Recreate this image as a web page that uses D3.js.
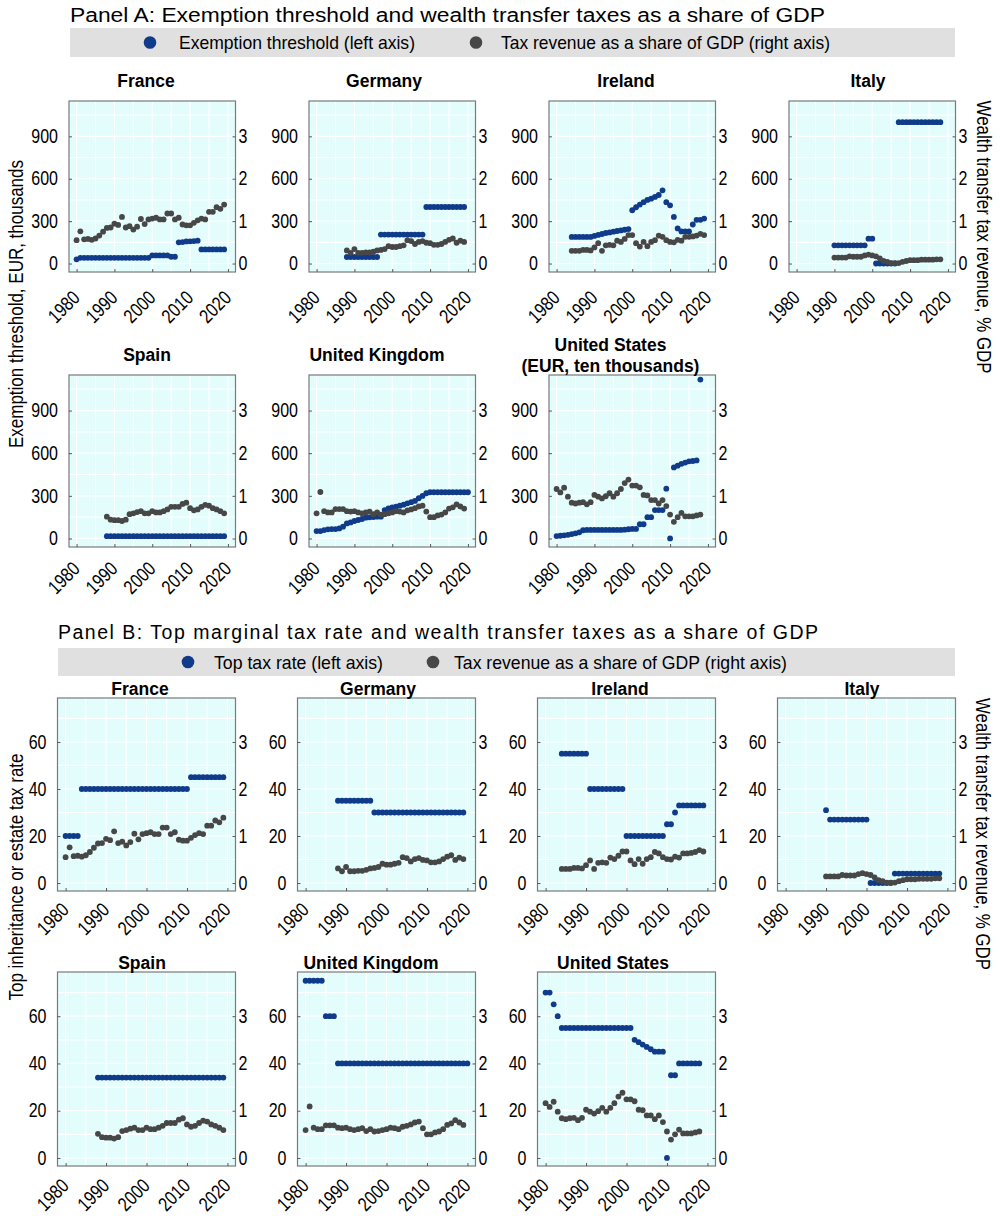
<!DOCTYPE html>
<html><head><meta charset="utf-8">
<script src="https://cdn.jsdelivr.net/npm/d3@7"></script>
<style>body{margin:0;background:#fff}svg{display:block}</style>
</head><body>
<svg id="chart" width="1000" height="1222"></svg>
<script>
// ---------------- DATA ----------------
const countries = ["France","Germany","Ireland","Italy","Spain","United Kingdom","United States"];
const usUnitNote = "(EUR, ten thousands)";
const startYears = [1980, 1988, 1984, 1990, 1988, 1980, 1980];

// Wealth transfer tax revenue, % of GDP (right axis, both panels)
const revenueFrance  = [0.55,0.76,0.57,0.58,0.56,0.59,0.66,0.75,0.84,0.85, 0.94,0.91,1.10,0.85,0.88,0.80,0.87,1.05,0.93,1.04, 1.06,1.08,1.04,1.04,1.18,1.18,1.04,1.08,0.92,0.90, 0.90,0.96,1.02,1.06,1.04,1.22,1.22,1.33,1.29,1.39];
const revenueGermany = [0.31,0.25,0.34,0.25,0.25,0.26,0.26,0.28,0.31,0.32, 0.34,0.41,0.39,0.39,0.41,0.43,0.55,0.53,0.46,0.51, 0.53,0.49,0.48,0.44,0.44,0.46,0.51,0.56,0.59,0.49, 0.54,0.51];
const revenueIreland = [0.30,0.30,0.30,0.32,0.32,0.31, 0.38,0.48,0.30,0.43,0.44,0.43,0.54,0.51,0.58,0.67, 0.67,0.48,0.40,0.51,0.41,0.51,0.55,0.66,0.63,0.55, 0.51,0.50,0.56,0.54,0.63,0.63,0.64,0.66,0.70,0.67];
const revenueItaly   = [0.14,0.14,0.14,0.14,0.17,0.16,0.16,0.16,0.19,0.21, 0.19,0.17,0.12,0.06,0.04,0.01,0.01,0.01,0.04,0.06, 0.08,0.08,0.08,0.09,0.09,0.09,0.09,0.10,0.10];
const revenueSpain   = [0.51,0.44,0.43,0.43,0.41,0.44,0.57,0.59,0.62,0.64, 0.59,0.59,0.64,0.61,0.61,0.64,0.68,0.74,0.74,0.74, 0.81,0.84,0.71,0.66,0.68,0.74,0.79,0.77,0.71,0.68, 0.64,0.59];
const revenueUK      = [0.59,1.09,0.64,0.61,0.61,0.69,0.69,0.69,0.64,0.63, 0.64,0.61,0.59,0.61,0.63,0.57,0.61,0.56,0.57,0.59, 0.61,0.64,0.63,0.61,0.66,0.68,0.71,0.75,0.77,0.63, 0.50,0.50,0.54,0.56,0.61,0.70,0.73,0.80,0.75,0.70];
const revenueUS      = [1.16,1.08,1.19,0.98,0.84,0.82,0.84,0.85,0.80,0.85, 1.02,0.98,0.94,0.99,1.06,0.98,1.06,1.16,1.30,1.38, 1.24,1.24,1.20,1.02,1.01,0.90,0.90,0.82,0.90,0.76, 0.56,0.39,0.50,0.60,0.52,0.52,0.52,0.54,0.56];

// Exemption threshold, EUR thousands (US: EUR ten thousands)
const thresholdFrance  = [30,40,40,40,40,40,40,40,40,40, 40,40,40,40,40,40,40,40,40,40, 57,57,57,57,57,48,48,150,152,156, 157,159,162,100,100,100,100,100,100,100];
const thresholdGermany = [46,46,46,46,46,46,46,46,46, 205,205,205,205,205,205,205,205,205,205,205,205, 400,400,400,400,400,400,400,400,400,400,400];
const thresholdIreland = [188,188,188,188,188,188, 195,202,209,216,220,225,230,234,239,244, 377,398,417,434,450,459,471,485,518,434, 412,330,248,227,227,227,276,309,309,318];
const thresholdItaly   = [129,129,129,129,129,129,129,129,129, 176,176, 0,0,0,0,0,0, 1000,1000,1000,1000,1000,1000,1000,1000,1000,1000,1000,1000];
const thresholdSpain   = [16,16,16,16,16,16,16,16,16,16, 16,16,16,16,16,16,16,16,16,16, 16,16,16,16,16,16,16,16,16,16, 16,16];
const thresholdUK      = [52,52,59,64,66,66,71,83,106,113, 123,130,137,146,149,151,153,153,200,212, 219,224,231,238,247,255,264,283,299,318, 325,325,325,325,325,325,325,325,325,325,325];
const thresholdUS      = [17,19,22,26,31,36,43,58, 60,60,60,60,60,60,60,60,60,60, 62,65,67,67, 100,100,150,150,200,200,200,350,0,500,512,525,534,543,545,549,1118];

// Top inheritance / estate tax rate, %
const rateFrance  = [20,20,20,20, 40,40,40,40,40,40,40,40,40,40,40,40,40,40,40,40,40,40,40,40,40,40,40,40,40,40,40, 45,45,45,45,45,45,45,45,45];
const rateGermany = [35,35,35,35,35,35,35,35,35, 30,30,30,30,30,30,30,30,30,30,30,30,30,30,30,30,30,30,30,30,30,30,30];
const rateIreland = [55,55,55,55,55,55,55, 40,40,40,40,40,40,40,40,40, 20,20,20,20,20,20,20,20,20,20, 25,25,30, 33,33,33,33,33,33,33];
const rateItaly   = [31, 27,27,27,27,27,27,27,27,27,27, 0,0,0,0,0,0, 4,4,4,4,4,4,4,4,4,4,4,4];
const rateSpain   = [34,34,34,34,34,34,34,34,34,34, 34,34,34,34,34,34,34,34,34,34, 34,34,34,34,34,34,34,34,34,34, 34,34];
const rateUK      = [75,75,75,75,75, 60,60,60, 40,40,40,40,40,40,40,40,40,40,40,40,40,40,40,40,40,40,40,40,40,40,40,40,40,40,40,40,40,40,40,40,40];
const rateUS      = [70,70,65,60, 55,55,55,55,55,55,55,55,55,55,55,55,55,55,55,55,55,55, 50,49,48,47,46,45,45,45,0,35,35,40,40,40,40,40,40];

const yearTicks = [1980, 1990, 2000, 2010, 2020];
const thresholdTicks = [0, 300, 600, 900];
const rateTicks = [0, 20, 40, 60];
const revenueTicks = [0, 1, 2, 3];

const revenue = [revenueFrance, revenueGermany, revenueIreland, revenueItaly, revenueSpain, revenueUK, revenueUS];
const threshold = [thresholdFrance, thresholdGermany, thresholdIreland, thresholdItaly, thresholdSpain, thresholdUK, thresholdUS];
const topRate = [rateFrance, rateGermany, rateIreland, rateItaly, rateSpain, rateUK, rateUS];

// ---------------- STYLE ----------------
const BLUE = "#0f3b8a", GRAY = "#474747", BG = "#e3fcfc";
const fSans = "'Liberation Sans',Arial,Helvetica,sans-serif";
const svg = d3.select("#chart");
const fmt = d3.format("d");
const R = 2.9;

function pts(arr, start){ return arr.map((v,i)=>({year:start+i, v})); }
// condense text horizontally (narrow-font look)
function squeeze(sel, k){
  sel.each(function(){
    const L = this.getComputedTextLength();
    d3.select(this).attr("textLength", L*k).attr("lengthAdjust","spacingAndGlyphs");
  });
}

function drawPanel(c){
  const g = svg.append("g");
  const x = d3.scaleLinear().domain([1978, 2022]).range([c.x0, c.x1]);
  const y = d3.scaleLinear().domain(c.yDom).range([c.y1, c.y0]);
  const yr = d3.scaleLinear().domain(c.rDom).range([c.y1, c.y0]);
  g.append("rect").attr("x",c.x0).attr("y",c.y0).attr("width",c.x1-c.x0).attr("height",c.y1-c.y0).attr("fill",BG);
  g.selectAll(".gx").data(d3.range(1980,2021,5)).join("line")
    .attr("x1",d=>x(d)).attr("x2",d=>x(d)).attr("y1",c.y0).attr("y2",c.y1)
    .attr("stroke","#fff").attr("stroke-width",1.2);
  g.selectAll(".gy").data(c.yGrid).join("line")
    .attr("y1",d=>y(d)).attr("y2",d=>y(d)).attr("x1",c.x0).attr("x2",c.x1)
    .attr("stroke","#fff").attr("stroke-width",1.2);
  g.append("g").selectAll("circle").data(pts(c.blue, c.start)).join("circle")
    .attr("cx",d=>x(d.year)).attr("cy",d=>y(d.v)).attr("r",R).attr("fill",BLUE);
  g.append("g").selectAll("circle").data(pts(c.gray, c.start)).join("circle")
    .attr("cx",d=>x(d.year)).attr("cy",d=>yr(d.v)).attr("r",R).attr("fill",GRAY);
  g.append("rect").attr("x",c.x0).attr("y",c.y0).attr("width",c.x1-c.x0).attr("height",c.y1-c.y0)
    .attr("fill","none").attr("stroke","#7a7a7a").attr("stroke-width",1.2);

  const styleAxis = a => {
    a.select(".domain").remove();
    a.attr("font-family", fSans).attr("font-size", 19.5).attr("color","#555");
    a.selectAll("text").attr("fill","#000");
  };
  const la = g.append("g").attr("transform",`translate(${c.x0},0)`)
    .call(d3.axisLeft(y).tickValues(c.yTicks).tickFormat(fmt).tickSize(-3).tickPadding(11)).call(styleAxis);
  const ra = g.append("g").attr("transform",`translate(${c.x1},0)`)
    .call(d3.axisRight(yr).tickValues(revenueTicks).tickFormat(fmt).tickSize(-3).tickPadding(3)).call(styleAxis);
  const bx = g.append("g").attr("transform",`translate(0,${c.y1})`)
    .call(d3.axisBottom(x).tickValues(yearTicks).tickFormat(fmt).tickSize(-3)).call(styleAxis);
  bx.selectAll("text").attr("x",0).attr("y",0).attr("dy",0).attr("text-anchor","end")
    .attr("transform",`translate(4,${c.labDy}) rotate(-45)`);
  squeeze(la.selectAll("text"), 0.82);
  squeeze(ra.selectAll("text"), 0.82);
  squeeze(bx.selectAll("text"), 0.82);

  c.title.forEach((t,i)=>{
    g.append("text").attr("x",c.tx).attr("y",c.ty + i*21).attr("text-anchor","middle")
      .attr("font-family",fSans).attr("font-weight","bold").attr("font-size",17.5).attr("fill","#000").text(t);
  });
}

// ---------------- PANEL A ----------------
svg.append("text").attr("x",70).attr("y",22).attr("font-family",fSans).attr("font-size",19.5)
  .attr("textLength",755).attr("lengthAdjust","spacingAndGlyphs").attr("fill","#000")
  .text("Panel A: Exemption threshold and wealth transfer taxes as a share of GDP");
svg.append("rect").attr("x",70).attr("y",28).attr("width",885).attr("height",29).attr("fill","#e0e0e0");
svg.append("circle").attr("cx",150).attr("cy",42.5).attr("r",6.3).attr("fill",BLUE);
svg.append("text").attr("x",179).attr("y",49).attr("font-family",fSans).attr("font-size",18.5)
  .attr("textLength",236).attr("lengthAdjust","spacingAndGlyphs").text("Exemption threshold (left axis)");
svg.append("circle").attr("cx",476).attr("cy",42.5).attr("r",6.3).attr("fill",GRAY);
svg.append("text").attr("x",501).attr("y",49).attr("font-family",fSans).attr("font-size",18.5)
  .attr("textLength",329).attr("lengthAdjust","spacingAndGlyphs").text("Tax revenue as a share of GDP (right axis)");

const colsA = [69, 309, 549, 789], wA = 166.5;
const rowsA = [[101, 272, 86.5, 27], [375, 547, 361, 23]];
const titleCxA = [146, 384, 626, 868, 147, 377, 610.5];
const titleCxB = [140, 378, 620, 862, 142, 371, 613];
countries.forEach((name, i) => {
  const col = i % 4, row = Math.floor(i / 4);
  const [y0, y1, ty, labDy] = rowsA[row];
  drawPanel({
    x0: colsA[col], x1: colsA[col] + wA, y0, y1,
    yDom: [-60, 1150], rDom: [-0.2, 1150/300], yTicks: thresholdTicks, yGrid: d3.range(0, 1101, 150),
    blue: threshold[i], gray: revenue[i], start: startYears[i],
    title: name === "United States" ? [name, usUnitNote] : [name],
    tx: titleCxA[i], ty: name === "United States" ? 350.5 : ty, labDy
  });
});
svg.append("text").attr("transform","translate(23,304) rotate(-90)").attr("text-anchor","middle")
  .attr("font-family",fSans).attr("font-size",20).attr("textLength",288).attr("lengthAdjust","spacingAndGlyphs")
  .text("Exemption threshold, EUR, thousands");
svg.append("text").attr("transform","translate(977,237) rotate(90)").attr("text-anchor","middle")
  .attr("font-family",fSans).attr("font-size",20).attr("textLength",273).attr("lengthAdjust","spacingAndGlyphs")
  .text("Wealth transfer tax revenue, % GDP");

// ---------------- PANEL B ----------------
svg.append("text").attr("x",58).attr("y",639).attr("font-family",fSans).attr("font-size",19.5)
  .attr("textLength",760).attr("lengthAdjust","spacing").attr("fill","#000")
  .text("Panel B: Top marginal tax rate and wealth transfer taxes as a share of GDP");
svg.append("rect").attr("x",58).attr("y",648).attr("width",897).attr("height",28).attr("fill","#e0e0e0");
svg.append("circle").attr("cx",188).attr("cy",662).attr("r",6.3).attr("fill",BLUE);
svg.append("text").attr("x",214).attr("y",668.5).attr("font-family",fSans).attr("font-size",18.5)
  .attr("textLength",169).attr("lengthAdjust","spacingAndGlyphs").text("Top tax rate (left axis)");
svg.append("circle").attr("cx",433).attr("cy",662).attr("r",6.3).attr("fill",GRAY);
svg.append("text").attr("x",454).attr("y",668.5).attr("font-family",fSans).attr("font-size",18.5)
  .attr("textLength",333).attr("lengthAdjust","spacingAndGlyphs").text("Tax revenue as a share of GDP (right axis)");

const colsB = [57.5, 297.5, 537.5, 777.5], wB = 178;
const rowsB = [[698, 891, 695, 20], [972, 1166, 969, 21]];
countries.forEach((name, i) => {
  const col = i % 4, row = Math.floor(i / 4);
  const [y0, y1, ty, labDy] = rowsB[row];
  drawPanel({
    x0: colsB[col], x1: colsB[col] + wB, y0, y1,
    yDom: [-3.4, 78.7], rDom: [-3.4/20, 78.7/20], yTicks: rateTicks, yGrid: d3.range(0, 71, 10),
    blue: topRate[i], gray: revenue[i], start: startYears[i],
    title: [name], tx: titleCxB[i], ty, labDy
  });
});
svg.append("text").attr("transform","translate(23,877) rotate(-90)").attr("text-anchor","middle")
  .attr("font-family",fSans).attr("font-size",20).attr("textLength",247).attr("lengthAdjust","spacingAndGlyphs")
  .text("Top inheritance or estate tax rate");
svg.append("text").attr("transform","translate(976,834) rotate(90)").attr("text-anchor","middle")
  .attr("font-family",fSans).attr("font-size",20).attr("textLength",272).attr("lengthAdjust","spacingAndGlyphs")
  .text("Wealth transfer tax revenue, % GDP");
</script>
</body></html>
